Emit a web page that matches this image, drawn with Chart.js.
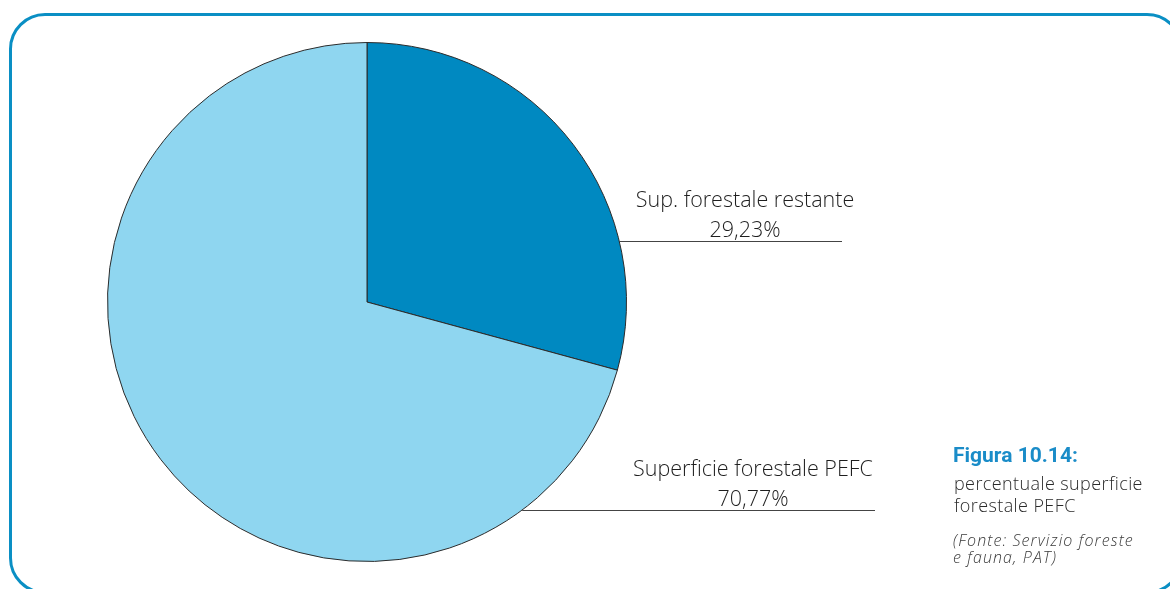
<!DOCTYPE html>
<html>
<head>
<meta charset="utf-8">
<script src="https://cdn.jsdelivr.net/npm/chart.js@4.4.0/dist/chart.umd.min.js"></script>
<style>
  html, body { margin: 0; padding: 0; background: #fff; }
  body { width: 1170px; height: 589px; position: relative; overflow: hidden; }
  #frame {
    position: absolute; left: 9px; top: 13px; width: 1174px; height: 581px;
    border: 3px solid #0a8fc4; border-radius: 36px; box-sizing: border-box;
  }
  #wrap { position: absolute; left: 0; top: 0; width: 1170px; height: 589px; }
  .cap { position: absolute; left: 953px; white-space: nowrap; font-family: "Open Sans", sans-serif; }
  .fig { top: 444px; font-family: "Liberation Sans Narrow", "Roboto", sans-serif; font-weight: bold; font-size: 21px; color: #1a8cc8; line-height: 22px; }
  .desc { top: 472px; left: 954px; font-size: 18px; font-weight: 300; color: #2a2a2a; line-height: 22px; letter-spacing: 0.4px; }
  .src { top: 532px; left: 953px; font-size: 16px; font-style: italic; font-weight: 300; color: #3a3a3a; line-height: 17px; letter-spacing: 1.1px; }
</style>
</head>
<body>
<div id="frame"></div>
<div id="wrap"><canvas id="pie_chart"></canvas></div>
<div class="cap fig">Figura 10.14:</div>
<div class="cap desc">percentuale superficie<br>forestale PEFC</div>
<div class="cap src">(Fonte: Servizio foreste<br>e fauna, PAT)</div>
<script>
var slice_labels = ['Sup. forestale restante', 'Superficie forestale PEFC'];
var slice_values = [29.23, 70.77];
var slice_colors = ['#0089c1', '#8fd6f0'];
// where each leader line sits: vertical offset from centre, and right end x
var leader_dy = [-61, 208];
var leader_end = [842, 875];
var text_cx = [745, 753];

function fmt(v) {
  return v.toFixed(2).replace('.', ',') + '%';
}

var labelPlugin = {
  id: 'leaderLabels',
  afterDraw: function(chart) {
    var ctx = chart.ctx;
    var arc = chart.getDatasetMeta(0).data[0];
    var cx = arc.x, cy = arc.y, r = arc.outerRadius;
    ctx.save();
    for (let i = 0; i < slice_labels.length; i++) {
      let y = cy + leader_dy[i];
      let x0 = cx + Math.sqrt(r * r - leader_dy[i] * leader_dy[i]);
      ctx.strokeStyle = '#444';
      ctx.lineWidth = 1;
      ctx.beginPath();
      ctx.moveTo(x0, Math.round(y) + 0.5);
      ctx.lineTo(leader_end[i], Math.round(y) + 0.5);
      ctx.stroke();
      ctx.fillStyle = '#1e1e1e';
      ctx.font = '300 21.5px "Open Sans", sans-serif';
      ctx.textAlign = 'center';
      ctx.textBaseline = 'alphabetic';
      ctx.fillText(slice_labels[i], text_cx[i], y - 34);
      ctx.fillText(fmt(slice_values[i]), text_cx[i], y - 4);
    }
    ctx.restore();
  }
};

const data = {
  labels: slice_labels,
  datasets: [{
    data: slice_values,
    backgroundColor: slice_colors,
    borderColor: '#2b2b2b',
    borderWidth: 1
  }]
};

const config = {
  type: 'pie',
  data: data,
  options: {
    responsive: false,
    animation: false,
    layout: { padding: { left: 107, right: 543, top: 42, bottom: 27 } },
    plugins: {
      legend: { display: false },
      tooltip: { enabled: false }
    }
  },
  plugins: [labelPlugin]
};

var cv = document.getElementById('pie_chart');
cv.width = 1170;
cv.height = 589;
const myChart = new Chart(cv, config);
</script>
</body>
</html>
